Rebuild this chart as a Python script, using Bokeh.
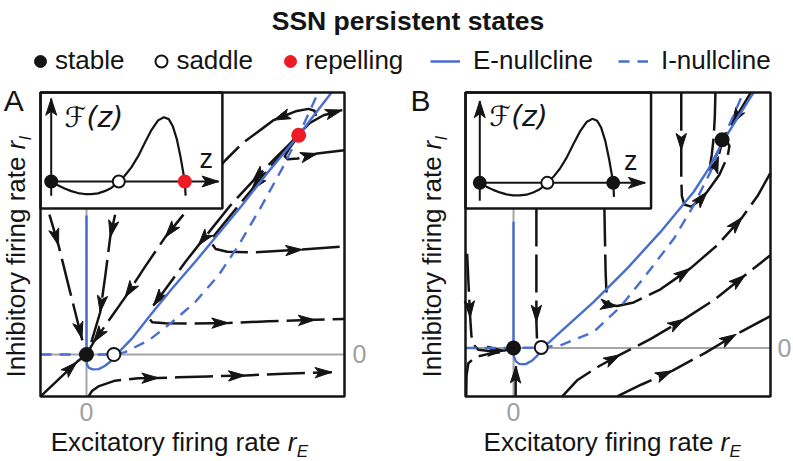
import math
from bokeh.plotting import figure
from bokeh.layouts import column, row
from bokeh.models import Label, Legend, LegendItem
from bokeh.embed import file_html
from bokeh.resources import INLINE

# ---------------------------------------------------------------- data
TITLE = "SSN persistent states"
LEGEND_POINT_LABELS = ["stable", "saddle", "repelling"]
LEGEND_LINE_LABELS = ["E-nullcline", "I-nullcline"]
X_LABEL = "Excitatory firing rate "
Y_LABEL = "Inhibitory firing rate "
TICK_LABEL = "0"
PANEL_LETTERS = ["A", "B"]
INSET_Y_LABEL = "\u2131(z)"
INSET_X_LABEL = "z"

# sketch of F(z) used in both insets
INSET_Z = [0.0, 0.05, 0.1, 0.15, 0.2, 0.25, 0.3, 0.35, 0.4, 0.45, 0.506, 0.55, 0.6,
           0.65, 0.7, 0.75, 0.8, 0.843, 0.88, 0.91, 0.94, 0.97, 1.0, 1.006]
INSET_F = [0.0, -0.06, -0.11, -0.15, -0.18, -0.195, -0.197, -0.185, -0.15, -0.1, 0.0,
           0.09, 0.22, 0.39, 0.6, 0.8, 0.95, 1.0, 0.97, 0.86, 0.66, 0.36, 0.0, -0.22]
INSET_ROOTS_Z = [0.0, 0.506, 1.0]
A_INSET_KINDS = ["stable", "saddle", "repelling"]
B_INSET_KINDS = ["stable", "saddle", "stable"]

# ---- panel A
A_E_X = [0.0, 0.0, 0.02, 0.08, 0.2, 0.4, 0.6, 0.78, 0.94, 1.2, 1.49, 2.09, 2.81, 3.57,
         4.34, 5.11, 5.89, 6.98, 8.06]
A_E_Y = [4.57, -0.2, -0.34, -0.44, -0.49, -0.48, -0.38, -0.24, -0.03, 0.22, 0.52, 1.28,
         2.16, 3.04, 3.97, 4.9, 5.9, 7.21, 8.62]
A_I_X = [-1.51, 0.0, 0.9, 1.27, 2.04, 2.81, 3.57, 4.34, 5.0, 5.71, 6.44, 6.98, 7.53, 7.62]
A_I_Y = [0.0, 0.0, 0.0, 0.08, 0.46, 1.06, 1.72, 2.6, 3.59, 4.8, 6.12, 7.21, 8.42, 8.62]
A_FP_X = [0.0, 0.9, 6.98]
A_FP_Y = [0.0, 0.0, 7.21]
A_FP_KIND = ["stable", "saddle", "repelling"]

A_T1 = [(-1.5, -1.37), (-0.32, -0.25), (-0.06, -0.04)]
A_T1_ARROWS = [1]
A_T2 = [(0.07, -1.38), (0.18, -1.2), (0.39, -1.05), (0.94, -0.86), (1.71, -0.78),
        (2.37, -0.77), (3.0, -0.75), (4.0, -0.72), (5.22, -0.69), (6.5, -0.63), (8.07, -0.58)]
A_T2_ARROWS = [5, 8, 10]
A_T3 = [(2.09, 1.15), (2.16, 1.06), (2.59, 1.03), (3.36, 1.02), (4.67, 1.04),
        (6.0, 1.09), (7.52, 1.14), (8.48, 1.17)]
A_T3_ARROWS = [4, 6]
A_T4 = [(6.9, 7.15), (6.08, 6.2), (5.42, 5.4), (5.0, 4.9), (4.5, 4.28), (4.15, 3.85),
        (4.12, 3.65), (4.25, 3.47), (4.63, 3.38), (5.5, 3.36), (7.1, 3.45), (8.48, 3.56)]
A_T4_ARROWS = [2, 10]
A_T5 = [(-1.22, 4.6), (-0.92, 3.59), (-0.55, 2.1), (-0.15, 0.52), (-0.04, 0.1)]
A_T5_ARROWS = [1, 3]
A_T6 = [(0.94, 4.6), (0.78, 3.86), (0.62, 2.6), (0.45, 1.39), (0.07, 0.1)]
A_T6_ARROWS = [1, 3]
A_T7 = [(3.19, 4.6), (2.59, 3.86), (1.9, 2.85), (1.27, 1.88), (0.23, 0.4), (0.07, 0.12)]
A_T7_ARROWS = [1, 3, 4]
A_T8 = [(6.88, 7.12), (6.2, 6.45), (5.45, 5.68), (4.73, 4.9), (3.68, 3.59), (3.25, 3.04),
        (2.2, 1.61)]
A_T8_ARROWS = [2, 4, 6]
A_T9 = [(7.55, 7.85), (7.5, 8.02), (7.3, 8.08), (6.88, 8.0), (6.16, 7.71), (5.78, 7.43),
        (5.12, 6.94), (4.57, 6.39), (3.9, 5.6)]
A_T9_ARROWS = [4]
A_T10 = [(7.05, 7.32), (7.35, 7.62), (7.8, 7.87), (8.41, 8.04)]
A_T10_ARROWS = [3]
A_T11 = [(6.92, 7.12), (6.65, 6.75), (6.52, 6.52), (6.62, 6.42), (6.95, 6.45),
         (7.59, 6.61), (8.48, 6.72)]
A_T11_ARROWS = [5]

# ---- panel B
B_E_X = [0.0, 0.0, 0.02, 0.08, 0.2, 0.4, 0.6, 0.78, 0.94, 1.54, 2.63, 3.73, 4.82, 5.91,
         6.4, 6.84, 7.33, 7.87]
B_E_Y = [4.15, -0.15, -0.3, -0.44, -0.53, -0.53, -0.42, -0.25, -0.02, 0.53, 1.52, 2.62,
         3.82, 5.14, 5.9, 6.75, 7.55, 8.4]
B_I_X = [-1.57, 0.0, 0.91, 1.54, 2.63, 3.51, 4.38, 5.26, 5.91, 6.46, 6.84, 7.3, 7.53]
B_I_Y = [0.0, 0.0, 0.02, 0.09, 0.53, 1.36, 2.45, 3.6, 4.7, 5.8, 6.8, 7.85, 8.4]
B_FP_X = [0.0, 0.91, 6.84]
B_FP_Y = [0.0, 0.02, 6.85]
B_FP_KIND = ["stable", "saddle", "stable"]

B_T1 = [(-1.52, 3.1), (-1.47, 2.0), (-1.42, 1.0), (-1.38, 0.4), (-1.3, 0.1), (-1.15, -0.06),
        (-0.8, -0.1), (-0.3, -0.08), (-0.1, -0.04)]
B_T1_ARROWS = [2, 7]
B_T2 = [(-1.55, -1.59), (-1.54, -0.9), (-1.48, -0.5), (-1.25, -0.3), (-0.85, -0.2),
        (-0.45, -0.14)]
B_T2_ARROWS = []
B_T3 = [(0.07, -1.59), (0.07, -1.0), (0.08, -0.6)]
B_T3_ARROWS = [2]
B_T4 = [(0.75, 4.59), (0.75, 2.5), (0.75, 0.86), (0.77, 0.3), (0.8, 0.12)]
B_T4_ARROWS = [2]
B_T5 = [(2.98, 4.59), (3.0, 3.5), (3.02, 2.5), (3.05, 1.75), (3.12, 1.5), (3.22, 1.4),
        (3.4, 1.38), (3.94, 1.5), (4.82, 1.93), (5.8, 2.62), (6.7, 3.4), (7.5, 4.3),
        (8.0, 5.0), (8.42, 5.75)]
B_T5_ARROWS = [6, 9, 11]
B_T6 = [(1.6, -1.59), (2.1, -1.05), (2.8, -0.6), (3.5, -0.22), (4.5, 0.3), (5.6, 0.95),
        (6.6, 1.6), (7.6, 2.4), (8.42, 3.05)]
B_T6_ARROWS = [3, 5, 7]
B_T7 = [(3.4, -1.59), (4.2, -1.2), (5.2, -0.75), (6.3, -0.15), (7.3, 0.45), (8.42, 1.05)]
B_T7_ARROWS = [2, 4]
B_T8 = [(5.5, 8.4), (5.5, 7.4), (5.5, 6.51), (5.5, 5.6), (5.52, 5.0), (5.6, 4.72),
        (5.82, 4.65), (6.1, 4.85), (6.35, 5.14), (6.75, 5.7), (7.02, 6.3), (7.08, 6.65),
        (6.98, 6.82)]
B_T8_ARROWS = [2, 8]
B_T9 = [(6.62, 8.4), (6.6, 7.6), (6.56, 6.9), (6.5, 6.35), (6.45, 6.05), (6.5, 5.93),
        (6.62, 6.02), (6.72, 6.3), (6.8, 6.62)]
B_T9_ARROWS = [7]
B_T10 = [(7.78, 8.4), (7.45, 7.85), (7.15, 7.35), (6.95, 7.02)]
B_T10_ARROWS = [2]

# ---------------------------------------------------------------- style
BLACK = "#141414"
BLUE = "#4a6dd0"
RED = "#ec1c24"
GRAY = "#a6a6a6"
TICK_GRAY = "#a0a0a0"
FONT = "Liberation Sans"
KIND_FILL = {"stable": BLACK, "saddle": "white", "repelling": RED}
KIND_LINE = {"stable": BLACK, "saddle": BLACK, "repelling": RED}


def arrow_patch(x0, y0, x1, y1, L=0.55, W=0.17, notch=0.13):
    dx, dy = x1 - x0, y1 - y0
    n = math.hypot(dx, dy)
    ux, uy = dx / n, dy / n
    nx, ny = -uy, ux
    bx, by = x1 - L * ux, y1 - L * uy
    mx, my = x1 - (L - notch) * ux, y1 - (L - notch) * uy
    return ([x1, bx + W * nx, mx, bx - W * nx], [y1, by + W * ny, my, by - W * ny])


def text(p, x, y, s, size, **kw):
    kw.setdefault("text_baseline", "bottom")
    kw.setdefault("text_font", FONT)
    kw.setdefault("text_color", BLACK)
    p.add_layout(Label(x=x, y=y, text=s, text_font_size=size, **kw))


def make_panel(cfg):
    (bx0, bx1), (by0, by1) = cfg["box"]
    p = figure(width=cfg["width"], height=383, x_range=cfg["xr"], y_range=cfg["yr"],
               output_backend="svg", toolbar_location=None,
               x_axis_location=None, y_axis_location=None, min_border=0,
               outline_line_color=None,
               background_fill_color="white", border_fill_color="white")
    p.grid.visible = False

    # zero lines of the phase plane
    p.segment(x0=[bx0, 0], y0=[0, by0], x1=[bx1, 0], y1=[0, cfg["inset_bottom"]],
              line_color=GRAY, line_width=2)

    # trajectories
    hx, hy = [], []
    for pts, arrows, dashed in cfg["trajs"]:
        xs = [q[0] for q in pts]
        ys = [q[1] for q in pts]
        p.line(xs, ys, line_color=BLACK, line_width=2.5, line_join="round",
               line_dash="38 8" if dashed else "solid")
        for i in arrows:
            ax, ay = arrow_patch(pts[i - 1][0], pts[i - 1][1], pts[i][0], pts[i][1])
            hx.append(ax)
            hy.append(ay)
    p.patches(hx, hy, fill_color=BLACK, line_color=BLACK, line_width=1)

    # nullclines
    p.line(cfg["ex"], cfg["ey"], line_color=BLUE, line_width=2.4)
    p.line(cfg["ix"], cfg["iy"], line_color=BLUE, line_width=2.4, line_dash="11 8")

    # inset
    x0, y0, sx, sy = cfg["inset_map"]
    p.quad(left=[bx0], right=[cfg["inset_right"]], bottom=[cfg["inset_bottom"]],
           top=[by1], fill_color="white", line_color=BLACK, line_width=2.5)
    p.line([x0 + sx * z for z in INSET_Z], [y0 + sy * f for f in INSET_F],
           line_color=BLACK, line_width=2.2)
    fb, ft, zr = cfg["inset_axes"]
    p.line([x0, x0], [y0 + sy * fb, y0 + sy * ft], line_color=BLACK, line_width=2)
    p.line([x0, x0 + sx * zr], [y0, y0], line_color=BLACK, line_width=2)
    ax1 = arrow_patch(x0, y0, x0, y0 + sy * ft, L=0.55, W=0.18)
    ax2 = arrow_patch(x0, y0, x0 + sx * zr, y0, L=0.55, W=0.18)
    p.patches([ax1[0], ax2[0]], [ax1[1], ax2[1]], fill_color=BLACK, line_color=BLACK)
    kinds = cfg["inset_kinds"]
    p.scatter([x0 + sx * z for z in INSET_ROOTS_Z], [y0] * len(INSET_ROOTS_Z), size=12,
              fill_color=[KIND_FILL[k] for k in kinds],
              line_color=[KIND_LINE[k] for k in kinds], line_width=2)
    fx, fy = cfg["flabel"]
    text(p, x0 + sx * fx, y0 + sy * fy, INSET_Y_LABEL, "28px",
         text_font="DejaVu Sans", text_font_style="italic")
    zx, zy = cfg["zlabel"]
    text(p, x0 + sx * zx, y0 + sy * zy, INSET_X_LABEL, "27px")

    # panel box
    p.quad(left=[bx0], right=[bx1], bottom=[by0], top=[by1], fill_color=None,
           line_color=BLACK, line_width=2.5)

    # fixed points
    kinds = cfg["fp_kind"]
    p.scatter(cfg["fp_x"], cfg["fp_y"], size=13,
              fill_color=[KIND_FILL[k] for k in kinds],
              line_color=[KIND_LINE[k] for k in kinds], line_width=2)

    # texts: panel letter, tick labels, axis labels
    lx, ly = cfg["letter_pos"]
    text(p, lx, ly, cfg["letter"], "30px")
    text(p, 0, by0, TICK_LABEL, "25px", y_offset=-6, text_align="center",
         text_baseline="top", text_color=TICK_GRAY)
    text(p, bx1, 0, TICK_LABEL, "25px", x_offset=cfg["rtick_off"], text_align="left",
         text_baseline="middle", text_color=TICK_GRAY)
    xlx, xly = cfg["xlabel_pos"]
    text(p, xlx, xly, X_LABEL, "26px")
    text(p, xlx, xly, "r", "26px", x_offset=237, text_font_style="italic")
    text(p, xlx, xly, "E", "17px", x_offset=246, y_offset=-4, text_font_style="italic")
    ylx, yly = cfg["ylabel_pos"]
    rot = math.pi / 2
    text(p, ylx, yly, Y_LABEL, "26px", angle=rot)
    text(p, ylx, yly, "r", "26px", angle=rot, y_offset=228, text_font_style="italic")
    text(p, ylx, yly, "I", "17px", angle=rot, y_offset=237, x_offset=4,
         text_font_style="italic")
    return p


def trajs(*items):
    return [(pts, arr, len(pts) > 3) for pts, arr in items]


cfg_a = dict(
    width=400, xr=(-2.829, 10.329), yr=(-3.520, 9.079),
    box=((-1.513, 8.487), (-1.382, 8.618)),
    trajs=trajs((A_T1, A_T1_ARROWS), (A_T2, A_T2_ARROWS), (A_T3, A_T3_ARROWS),
                (A_T4, A_T4_ARROWS), (A_T5, A_T5_ARROWS), (A_T6, A_T6_ARROWS),
                (A_T7, A_T7_ARROWS), (A_T8, A_T8_ARROWS), (A_T9, A_T9_ARROWS),
                (A_T10, A_T10_ARROWS), (A_T11, A_T11_ARROWS)),
    ex=A_E_X, ey=A_E_Y, ix=A_I_X, iy=A_I_Y,
    fp_x=A_FP_X, fp_y=A_FP_Y, fp_kind=A_FP_KIND,
    inset_map=(-1.161, 5.691, 4.395, 2.115), inset_right=4.47, inset_bottom=4.8,
    inset_axes=(-0.22, 1.29, 1.254), inset_kinds=A_INSET_KINDS,
    flabel=(0.1, 0.74), zlabel=(1.11, 0.11),
    letter=PANEL_LETTERS[0], letter_pos=(-2.72, 7.82), rtick_off=8,
    xlabel_pos=(-1.18, -3.37), ylabel_pos=(-1.83, -0.76),
)
cfg_b = dict(
    width=393, xr=(-3.705, 9.180), yr=(-3.733, 8.866),
    box=((-1.574, 8.426), (-1.595, 8.405)),
    trajs=trajs((B_T1, B_T1_ARROWS), (B_T2, B_T2_ARROWS), (B_T3, B_T3_ARROWS),
                (B_T4, B_T4_ARROWS), (B_T5, B_T5_ARROWS), (B_T6, B_T6_ARROWS),
                (B_T7, B_T7_ARROWS), (B_T8, B_T8_ARROWS), (B_T9, B_T9_ARROWS),
                (B_T10, B_T10_ARROWS)),
    ex=B_E_X, ey=B_E_Y, ix=B_I_X, iy=B_I_Y,
    fp_x=B_FP_X, fp_y=B_FP_Y, fp_kind=B_FP_KIND,
    inset_map=(-1.105, 5.434, 4.374, 2.105), inset_right=4.51, inset_bottom=4.59,
    inset_axes=(-0.28, 1.28, 1.24), inset_kinds=B_INSET_KINDS,
    flabel=(0.07, 0.78), zlabel=(1.08, 0.10),
    letter=PANEL_LETTERS[1], letter_pos=(-3.38, 7.60), rtick_off=7,
    xlabel_pos=(-0.98, -3.59), ylabel_pos=(-2.18, -0.97),
)

pa = make_panel(cfg_a)
pb = make_panel(cfg_b)

# ---------------------------------------------------------------- header
head = figure(width=793, height=78, x_range=(0, 793), y_range=(0, 78),
              output_backend="svg", toolbar_location=None,
              x_axis_location=None, y_axis_location=None,
              min_border=0, outline_line_color=None,
              background_fill_color="white", border_fill_color="white")
head.grid.visible = False
text(head, 407.5, 42.5, TITLE, "26.5px", text_align="center", text_font_style="bold")

r_st = head.scatter([-50], [-50], size=12, fill_color=BLACK, line_color=BLACK)
r_sa = head.scatter([-50], [-50], size=12, fill_color="white", line_color=BLACK,
                    line_width=2)
r_re = head.scatter([-50], [-50], size=12, fill_color=RED, line_color=RED)
r_e = head.line([-50, -49], [-50, -50], line_color=BLUE, line_width=2.5)
r_i = head.line([-50, -49], [-50, -50], line_color=BLUE, line_width=2.5, line_dash="11 8")

common = dict(orientation="horizontal", glyph_width=30, glyph_height=30, label_height=30,
              padding=0, margin=0, border_line_alpha=0, background_fill_alpha=0,
              label_text_font=FONT, label_text_font_size="26px", label_text_color=BLACK)
leg1 = Legend(items=[LegendItem(label=lab, renderers=[r]) for lab, r in
                     zip(LEGEND_POINT_LABELS, [r_st, r_sa, r_re])],
              location=(25, 2), label_standoff=0, spacing=22, **common)
leg2 = Legend(items=[LegendItem(label=lab, renderers=[r]) for lab, r in
                     zip(LEGEND_LINE_LABELS, [r_e, r_i])],
              location=(430, 2), label_standoff=13, spacing=25, **common)
head.add_layout(leg1)
head.add_layout(leg2)

layout = column(head, row(pa, pb, spacing=0), spacing=0)
open("out.html", "w").write(file_html(layout, INLINE))
